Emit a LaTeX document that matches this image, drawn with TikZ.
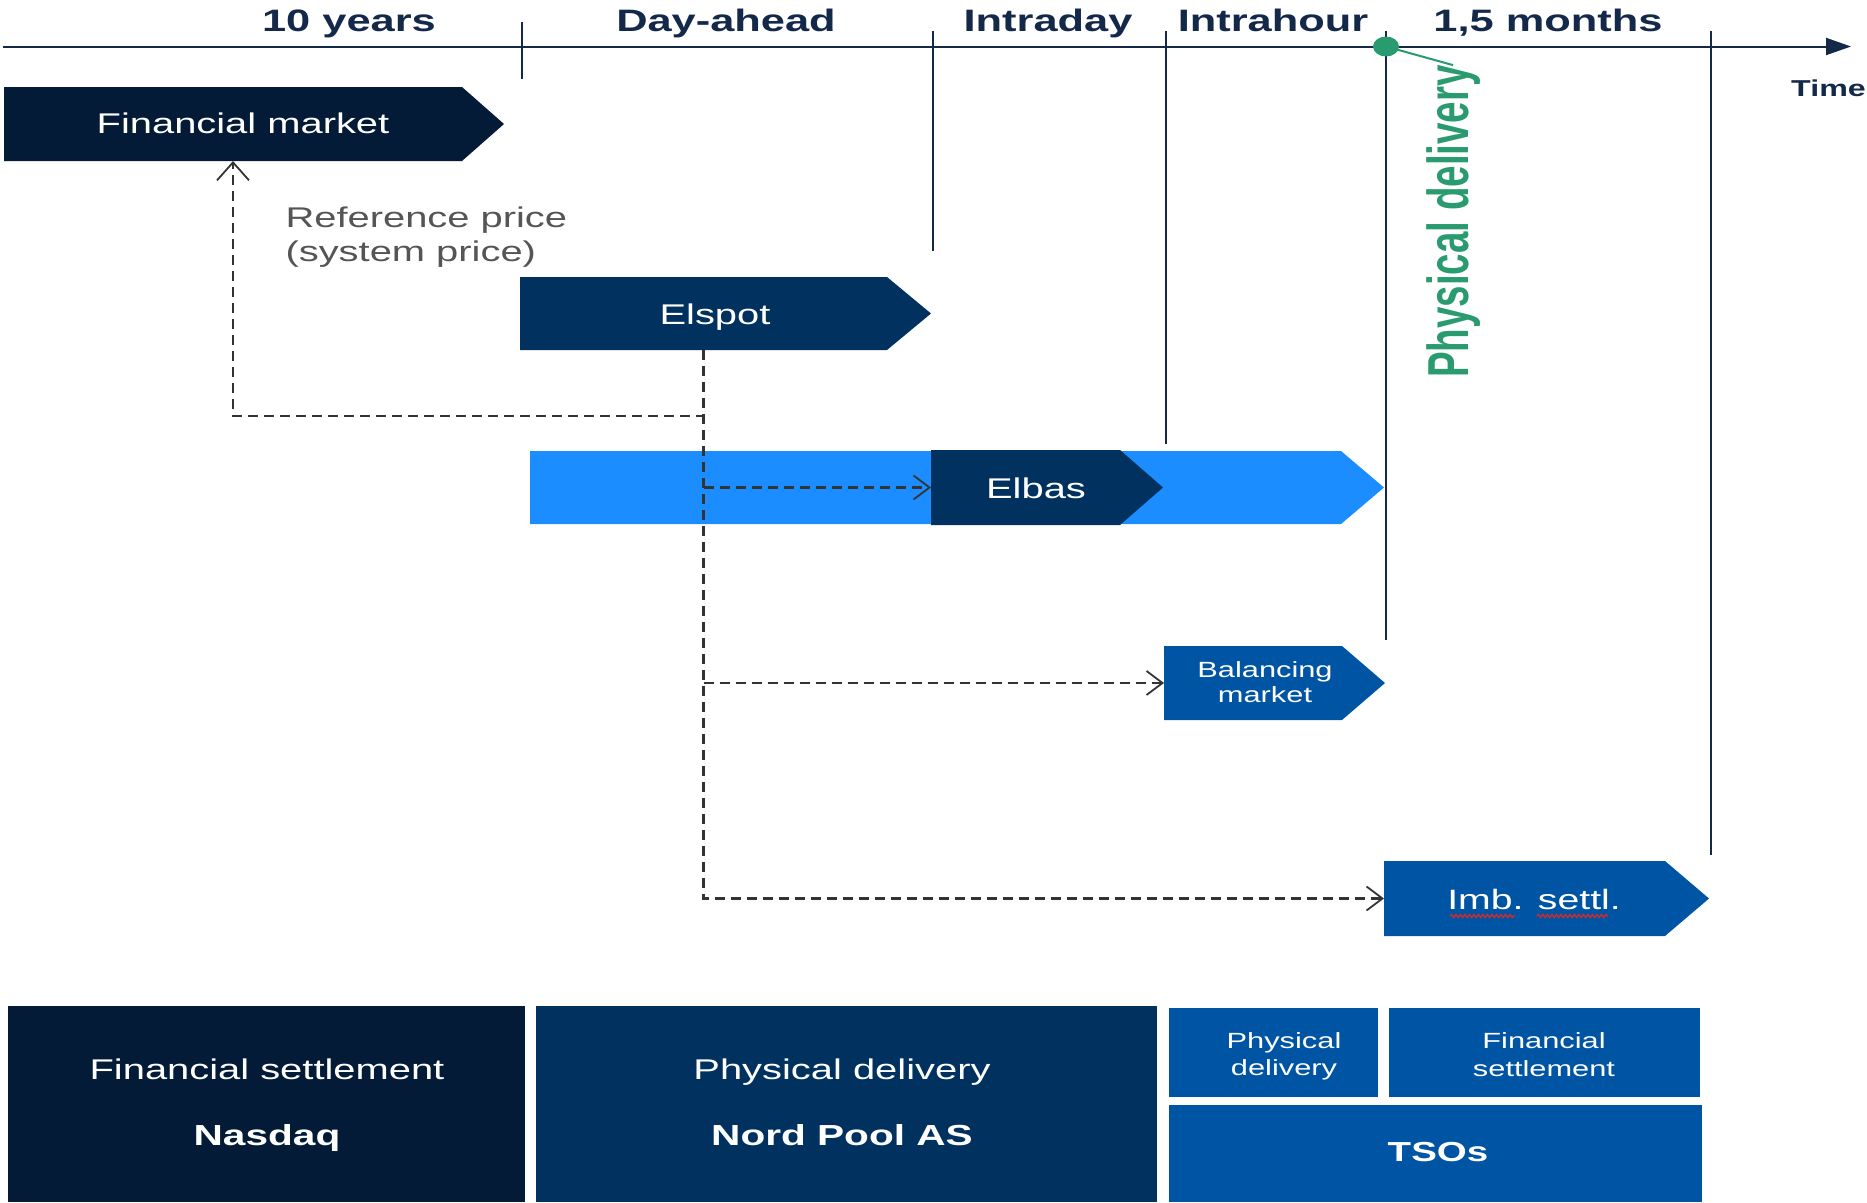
\documentclass[tikz,border=0pt]{standalone}
\usepackage{fontspec}
\usepackage{graphicx}
\setmainfont{Liberation Sans}[FakeStretch=1.4]
\newfontfamily\rotfont{Liberation Sans}
\usetikzlibrary{arrows.meta,shapes.geometric,decorations.pathmorphing}
\definecolor{navyA}{HTML}{031B36}
\definecolor{navyB}{HTML}{00315F}
\definecolor{blueC}{HTML}{0054A4}
\definecolor{blueL}{HTML}{1C8DFF}
\definecolor{greenP}{HTML}{2A9B6E}
\definecolor{axiscol}{HTML}{14294A}
\definecolor{dashcol}{HTML}{333333}
\definecolor{grayT}{HTML}{555555}
\definecolor{wavyred}{HTML}{D42A2A}
\newcommand\tagshape[6]{%
  \fill[#1] (#2,#5) -- (#3,#5) -- (#4,{(#5+#6)/2}) -- (#3,#6) -- (#2,#6) -- cycle;}
\tikzset{
  body/.style={inner sep=0pt, outer sep=0pt},
  lbl/.style={anchor=base, text=axiscol, font=\bfseries\fontsize{31}{31}\selectfont},
  wt/.style={anchor=base, text=white, font=\fontsize{28.5}{34}\selectfont},
  wtb/.style={anchor=base, text=white, font=\bfseries\fontsize{29}{34}\selectfont},
  ws/.style={anchor=base, text=white, font=\fontsize{22}{26}\selectfont},
  gt/.style={anchor=base west, text=grayT, font=\fontsize{28.5}{34}\selectfont},
  dsh/.style={draw=dashcol, line width=2.2pt, dash pattern=on 10pt off 6pt},
  tickline/.style={draw=axiscol, line width=2pt},
  hb/.tip={Straight Barb[length=16pt,width=24pt,line width=1.8pt]},
  vb/.tip={Straight Barb[length=18pt,width=32pt,line width=1.8pt]},
  panel/.style={inner sep=0pt, outer sep=0pt, anchor=north west},
  redwave/.style={wavyred, line width=1.3pt, decorate, decoration={snake, amplitude=1.6pt, segment length=4.5pt}},
}
\begin{document}
\begin{tikzpicture}[x=1pt,y=-1pt]
\useasboundingbox (0,0) rectangle (1867,1202);
% time axis
\coordinate (axL) at (3,46.5);
\coordinate (axR) at (1851,46.5);
\draw[draw=axiscol, line width=2pt, -{Triangle[length=25pt,width=17pt]}] (axL) -- (axR);
\draw[tickline] (522,22) -- (522,79);
\draw[tickline] (933,31) -- (933,251);
\draw[tickline] (1166,31) -- (1166,444);
\draw[tickline] (1386,31) -- (1386,640);
\draw[tickline] (1711,31) -- (1711,855);
% period labels
\node[lbl] (l10) at (349,31.5) {10 years};
\node[lbl] (lda) at (726,31.5) {Day-ahead};
\node[lbl] (lid) at (1048,31.5) {Intraday};
\node[lbl] (lih) at (1273,31.5) {Intrahour};
\node[lbl] (l15) at (1548,31.5) {1,5 months};
\node[anchor=base west, inner sep=0pt, text=axiscol, font=\bfseries\fontsize{23}{23}\selectfont] (ltime) at (1791,96) {Time};
% physical delivery marker
\node[ellipse, fill=greenP, minimum width=26pt, minimum height=20pt, inner sep=0pt] (dot) at (1386,46.5) {};
\node[rotate=90, anchor=base west, inner sep=0pt, text=greenP,
      font=\rotfont\bfseries\fontsize{38.5}{40}\selectfont] (pdT) at (1468,378)
      {\scalebox{1}[1.5]{Physical delivery}};
\draw[greenP, line width=2pt] (dot.center) -- (pdT.east);
% market boxes
\tagshape{navyA}{4}{462}{504}{87}{161}
\node[body, minimum width=458pt, minimum height=74pt] (fm) at (233,124) {};
\node[wt] (fmT) at (243,133) {Financial market};

\node[gt] (refT1) at (282,227) {Reference price};
\node[gt] (refT2) at (282,261) {(system price)};

\tagshape{navyB}{520}{887}{931}{277}{350}
\node[body, minimum width=367pt, minimum height=73pt] (elspot) at (703.5,313.5) {};
\node[wt] (elspotT) at (715,324) {Elspot};

\tagshape{blueL}{530}{1341}{1384}{451}{524}
\tagshape{navyB}{931}{1120}{1163}{450}{525}
\node[body, minimum width=189pt, minimum height=75pt] (elbas) at (1025.5,487.5) {};
\node[wt] (elbasT) at (1036,498) {Elbas};

\tagshape{blueC}{1164}{1342}{1385}{646}{720}
\node[body, minimum width=178pt, minimum height=74pt] (bal) at (1253,683) {};
\node[ws] (balT1) at (1265,677) {Balancing};
\node[ws] (balT2) at (1265,702) {market};

\tagshape{blueC}{1384}{1665}{1709}{861}{936}
\node[body, minimum width=281pt, minimum height=75pt] (imb) at (1524.5,898.5) {};
\node[anchor=base, text=white, font=\fontsize{28}{34}\selectfont] (imbT) at (1534,909) {Imb. settl.};
\draw[redwave] (1450,916) -- (1515,916);
\draw[redwave] (1537,916) -- (1608,916);
% dashed connectors
\coordinate (refc) at (233,416);
\draw[dsh, -{vb}] (elspot.south) |- (refc) -- (fm.south);
\draw[dsh, -{hb}] (elspot.south) |- (imb.west);
\draw[dsh, -{hb}] (elspot.south |- elbas.west) -- (elbas.west);
\draw[dsh, -{hb}] (elspot.south |- bal.west) -- (bal.west);
% bottom panels
\node[panel, fill=navyA, minimum width=517pt, minimum height=196pt] (nasdaq) at (8,1006) {};
\node[wt] (nasdaqT1) at (267,1079) {Financial settlement};
\node[wtb] (nasdaqT2) at (267,1145) {Nasdaq};
\node[panel, fill=navyB, minimum width=621pt, minimum height=196pt] (nordpool) at (536,1006) {};
\node[wt] (npT1) at (842,1079) {Physical delivery};
\node[wtb] (npT2) at (842,1145) {Nord Pool AS};
\node[panel, fill=blueC, minimum width=209pt, minimum height=89pt] (tsoPD) at (1169,1008) {};
\node[ws] (tsoPD1) at (1284,1048) {Physical};
\node[ws] (tsoPD2) at (1284,1075) {delivery};
\node[panel, fill=blueC, minimum width=311pt, minimum height=89pt] (tsoFS) at (1389,1008) {};
\node[ws] (tsoFS1) at (1544,1048) {Financial};
\node[ws] (tsoFS2) at (1544,1076) {settlement};
\node[panel, fill=blueC, minimum width=533pt, minimum height=97pt] (tso) at (1169,1105) {};
\node[anchor=base, text=white, font=\bfseries\fontsize{27.5}{30}\selectfont] (tsoT) at (1438,1161) {TSOs};
\end{tikzpicture}
\end{document}
